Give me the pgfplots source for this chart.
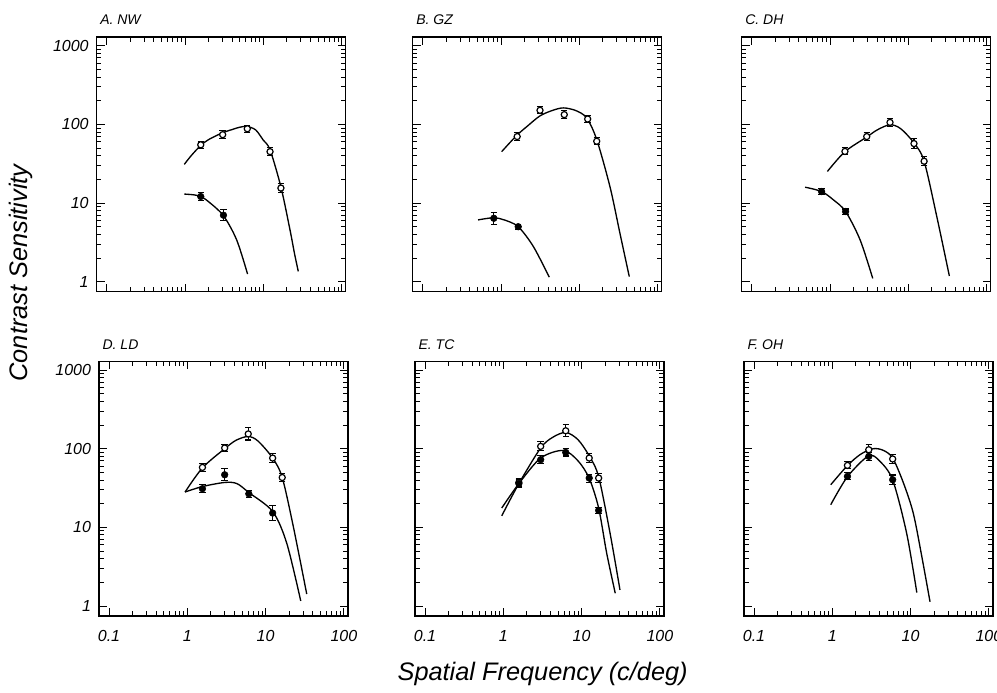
\documentclass[border=0pt]{standalone}
\usepackage{fontspec}
\setmainfont{Liberation Sans}
\usepackage{pgfplots}
\pgfplotsset{compat=1.18}
\pgfplotsset{
  every axis/.append style={
    scale only axis, clip=false,
    width=186.75pt, height=190.9pt,
    xmin=0.0745, xmax=112.8, ymin=0.746, ymax=1285,
    xtick={0.1,1,10,100}, ytick={1,10,100,1000},
    minor xtick={0.2,0.3,0.4,0.5,0.6,0.7,0.8,0.9,2,3,4,5,6,7,8,9,20,30,40,50,60,70,80,90},
    minor ytick={2,3,4,5,6,7,8,9,20,30,40,50,60,70,80,90,200,300,400,500,600,700,800,900},
    tick align=inside, major tick length=6pt, minor tick length=3.5pt,
    axis line style={line width=1.1pt},
    ticklabel style={font=\fontsize{12}{14}\selectfont\itshape},
    xticklabel style={yshift=-7pt},
    yticklabel style={xshift=-2.5pt},
  },
  every tick/.append style={black, line width=0.7pt},
  curvefit/.style={black, line width=1pt, smooth, no marks},
  opn/.style={black, only marks, mark=*, mark size=2.3pt, mark options={fill=white, draw=black, line width=0.9pt},
    error bars/y dir=both, error bars/y explicit, error bars/error bar style={line width=0.8pt, black},
    error bars/error mark options={rotate=90, mark size=2.4pt, line width=0.8pt, black}},
  fil/.style={black, only marks, mark=*, mark size=2.5pt, mark options={fill=black, draw=black},
    error bars/y dir=both, error bars/y explicit, error bars/error bar style={line width=0.8pt, black},
    error bars/error mark options={rotate=90, mark size=2.4pt, line width=0.8pt, black}},
}
\newcommand{\ptitle}[1]{\node[anchor=south west, font=\fontsize{10.5}{12}\selectfont\itshape, inner sep=0pt] at ([xshift=2.5pt, yshift=9pt]rel axis cs:0,1) {#1};}
\begin{document}
\begin{tikzpicture}
\path[use as bounding box] (0,0) rectangle (747.75pt,519.75pt);
% ---------------- A
\begin{loglogaxis}[anchor=south west, at={(72.5pt,300.98pt)}, xticklabels={}, yticklabels={\textit{1},\textit{10},\textit{100},\textit{1000}}]
\addplot[curvefit] coordinates {(0.98,31) (1.2,40) (1.59,54) (2,64) (3,78) (4,86) (5,92) (6.2,94) (8,85) (10,63) (12.2,47.5) (16.8,16) (21.9,4.6) (25,2.3) (28,1.35)};
\addplot[curvefit] coordinates {(0.98,13) (1.3,12.7) (1.59,12.1) (2,10.4) (3.1,6.9) (4.57,3.4) (6.3,1.25)};
\addplot[opn] table[x=x,y=y,y error plus=ep,y error minus=em] {
x y ep em
1.59 55 6 5
3.03 74 9 8
6.25 88 10 9
12.2 45 6 5
16.8 15.5 2 2
};
\addplot[fil] table[x=x,y=y,y error plus=ep,y error minus=em] {
x y ep em
1.59 12.1 1.5 1.3
3.1 7.0 1.2 1.0
};
\ptitle{A.\ NW}
\end{loglogaxis}
% ---------------- B
\begin{loglogaxis}[anchor=south west, at={(309.5pt,300.98pt)}, xticklabels={}, yticklabels={}]
\addplot[curvefit] coordinates {(1.02,45) (1.58,72) (2.2,96) (3.14,128) (4.5,150) (6.25,162) (9,150) (12.4,121) (16.7,64) (24.7,16) (33.1,4.1) (43.5,1.16)};
\addplot[curvefit] coordinates {(0.51,6.1) (0.8,6.5) (1.1,6.1) (1.66,5.0) (2.59,2.8) (4.14,1.14)};
\addplot[opn] table[x=x,y=y,y error plus=ep,y error minus=em] {
x y ep em
1.61 70 9 8
3.15 151 18 15
6.43 133 17 15
12.8 117 14 12
16.7 61 7 6
};
\addplot[fil] table[x=x,y=y,y error plus=ep,y error minus=em] {
x y ep em
0.81 6.4 1.1 1.0
1.66 5.0 0.4 0.4
};
\ptitle{B.\ GZ}
\end{loglogaxis}
% ---------------- C
\begin{loglogaxis}[anchor=south west, at={(556.3pt,300.98pt)}, xticklabels={}, yticklabels={}]
\addplot[curvefit] coordinates {(0.925,25.2) (1.55,45) (2.94,69) (4,85) (5.83,99) (8,88) (11.8,58) (15.9,34) (23.1,6.7) (33.4,1.18)};
\addplot[curvefit] coordinates {(0.48,15.9) (0.78,14) (1.1,11) (1.58,7.8) (2.42,3.4) (3.51,1.1)};
\addplot[opn] table[x=x,y=y,y error plus=ep,y error minus=em] {
x y ep em
1.55 45.3 5 4
2.94 70 9 8
5.83 106 14 12
11.8 57 9 8
15.9 34 5 4
};
\addplot[fil] table[x=x,y=y,y error plus=ep,y error minus=em] {
x y ep em
0.78 14 1.5 1.3
1.58 7.8 0.6 0.6
};
\ptitle{C.\ DH}
\end{loglogaxis}
% ---------------- D
\begin{loglogaxis}[anchor=south west, at={(74.25pt,57.75pt)}, xticklabels={\textit{0.1},\textit{1},\textit{10},\textit{100}}, yticklabels={\textit{1},\textit{10},\textit{100},\textit{1000}}]
\addplot[curvefit] coordinates {(0.935,28.1) (1.56,57) (3,100) (4.2,128) (6,143) (8,125) (12.3,76) (16.3,43) (22.6,10.2) (33.5,1.42)};
\addplot[curvefit] coordinates {(0.935,28.1) (1.56,33) (3,37.2) (4.3,36) (6.1,27.7) (12.3,15.9) (18.6,6.3) (28.1,1.16)};
\addplot[opn] table[x=x,y=y,y error plus=ep,y error minus=em] {
x y ep em
1.56 57.8 7 6
3.0 102 10 9
6.0 154 30 25
12.3 76 12 10
16.3 43 6 5
};
\addplot[fil] table[x=x,y=y,y error plus=ep,y error minus=em] {
x y ep em
1.56 31 4 3
3.0 46.6 9 7
6.1 26.7 3 3
12.3 15.2 3.5 3
};
\ptitle{D.\ LD}
\end{loglogaxis}
% ---------------- E
\begin{loglogaxis}[anchor=south west, at={(311.25pt,57.75pt)}, xticklabels={\textit{0.1},\textit{1},\textit{10},\textit{100}}, yticklabels={}]
\addplot[curvefit] coordinates {(0.955,14) (1.58,36) (3,102) (4.3,140) (6.3,161) (9,130) (12.5,81) (16.5,44) (23.1,8.4) (30.9,1.6)};
\addplot[curvefit] coordinates {(0.955,17.6) (1.58,36) (3,76) (5.84,95) (9,70) (12.5,42) (16.5,17.6) (20.9,4.7) (26.9,1.45)};
\addplot[opn] table[x=x,y=y,y error plus=ep,y error minus=em] {
x y ep em
1.58 37.2 4 4
3.0 107 15 13
6.27 169 35 28
12.5 76 10 9
16.5 42.3 6 5
};
\addplot[fil] table[x=x,y=y,y error plus=ep,y error minus=em] {
x y ep em
1.58 36 5 4
3.0 72.4 9 8
6.27 89.7 10 9
12.5 42.3 5 5
16.5 16.4 1.5 1.5
};
\ptitle{E.\ TC}
\end{loglogaxis}
% ---------------- F
\begin{loglogaxis}[anchor=south west, at={(558pt,57.75pt)}, xticklabels={\textit{0.1},\textit{1},\textit{10},\textit{100}}, yticklabels={}]
\addplot[curvefit] coordinates {(0.955,34.8) (1.56,61) (2.3,85) (3.34,100) (4.5,95) (5.9,76) (8.07,37) (10.8,15.2) (13.9,4.25) (17.7,1.13)};
\addplot[curvefit] coordinates {(0.955,19.4) (1.56,44) (2.9,81) (4,70) (5.9,40) (8.9,8.4) (12,1.48)};
\addplot[opn] table[x=x,y=y,y error plus=ep,y error minus=em] {
x y ep em
1.56 61.3 7 6
2.92 97 15 12
5.9 74 10 9
};
\addplot[fil] table[x=x,y=y,y error plus=ep,y error minus=em] {
x y ep em
1.56 44.4 5 4
2.92 79.8 10 9
5.9 40.3 6 5
};
\ptitle{F.\ OH}
\end{loglogaxis}
\node[rotate=90, font=\fontsize{19}{22}\selectfont\itshape] at (16pt,315pt) {Contrast Sensitivity};
\node[font=\fontsize{19}{22}\selectfont\itshape] at (407pt,14.5pt) {Spatial Frequency (c/deg)};
\end{tikzpicture}
\end{document}
